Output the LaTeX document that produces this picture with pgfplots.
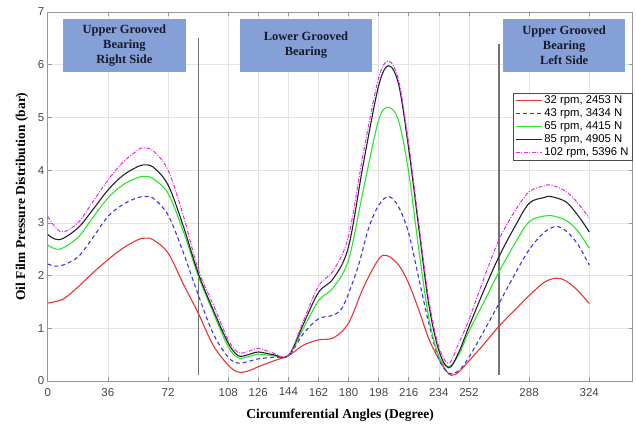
\documentclass[border=0pt]{standalone}
\usepackage{pgfplots}
\pgfplotsset{compat=1.18}
\usepackage{fontspec}
\setmainfont{Liberation Serif}
\setsansfont{Liberation Sans}

\definecolor{cRed}{RGB}{232,52,52}
\definecolor{cBlue}{RGB}{55,55,225}
\definecolor{cGreen}{RGB}{40,230,40}
\definecolor{cBlack}{RGB}{35,35,35}
\definecolor{cMag}{RGB}{235,40,235}
\definecolor{boxfill}{RGB}{132,160,214}
\definecolor{boxtext}{RGB}{25,25,45}
\definecolor{tickgray}{RGB}{70,70,70}
\definecolor{axgray}{RGB}{150,150,150}
\definecolor{gridgray}{RGB}{228,228,228}

\begin{document}
\begin{tikzpicture}[x=1pt,y=1pt]
\useasboundingbox (-47.7,-45) rectangle (588.3,381);
\begin{axis}[
  at={(0,0)}, anchor=south west,
  scale only axis, width=585pt, height=369pt,
  xmin=0, xmax=350, ymin=0, ymax=7,
  xtick={0,36,72,108,126,144,162,180,198,216,234,252,288,324},
  ytick={0,1,...,7},
  grid=major,
  major grid style={draw=gridgray, line width=0.6pt},
  axis line style={draw=axgray, line width=0.7pt},
  tick style={draw=axgray, line width=0.6pt},
  tick align=inside,
  major tick length=4pt,
  xtick pos=both, ytick pos=both,
  ticklabel style={font=\sffamily\fontsize{11.5}{12}\selectfont, text=tickgray},
  xticklabel style={yshift=-3.5pt},
  /pgf/number format/assume math mode=true,
  xlabel={Circumferential Angles (Degree)},
  ylabel={Oil Film Pressure Distribution (bar)},
  xlabel style={font=\bfseries\fontsize{13.5}{14}\selectfont, yshift=-6pt},
  ylabel style={font=\bfseries\fontsize{13.5}{14}\selectfont, yshift=3pt},
  legend style={at={(axis cs:278.4,5.47)}, anchor=north west,
    draw=black!70, line width=0.5pt, fill=white,
    font=\sffamily\fontsize{11.3}{12}\selectfont,
    inner xsep=2pt, inner ysep=1pt, row sep=-0.4pt},
  legend cell align=left,
  legend image code/.code={\draw[#1] (0pt,0pt) -- (26pt,0pt);},
  every axis plot/.append style={line width=1.1pt, smooth, tension=0.55},
]

% section boxes
\fill[boxfill] (axis cs:9.1,5.86) rectangle (axis cs:82.6,6.87);
\fill[boxfill] (axis cs:114.9,5.86) rectangle (axis cs:194.1,6.87);
\fill[boxfill] (axis cs:272.4,5.86) rectangle (axis cs:345.5,6.87);
\node[align=center, font=\bfseries\fontsize{12.5}{15}\selectfont, text=boxtext] at (axis cs:45.9,6.365) {Upper Grooved\\Bearing\\Right Side};
\node[align=center, font=\bfseries\fontsize{12.5}{15}\selectfont, text=boxtext] at (axis cs:154.5,6.365) {Lower Grooved\\Bearing};
\node[align=center, font=\bfseries\fontsize{12.5}{15}\selectfont, text=boxtext] at (axis cs:309,6.365) {Upper Grooved\\Bearing\\Left Side};

% groove boundaries
\draw[draw=black!55, line width=1.1pt] (axis cs:90,0.12) -- (axis cs:90,6.51);
\draw[draw=black!55, line width=1.1pt] (axis cs:270,0.12) -- (axis cs:270,6.40);

\addplot[cRed] coordinates {
(0,1.48) (9,1.55) (18,1.78) (27,2.05) (36,2.30) (45,2.52) (54,2.68) (58,2.71) (63,2.68)
(72,2.43) (81,1.85) (90,1.29) (99,0.68) (108,0.30) (114,0.17) (120,0.19) (126,0.27)
(135,0.38) (144,0.48) (153,0.68) (162,0.78) (171,0.82) (180,1.10) (189,1.78) (198,2.31)
(203,2.38) (210,2.20) (216,1.85) (222,1.35) (228,0.80) (234,0.42) (240,0.13) (243,0.12)
(246,0.17) (252,0.38) (261,0.70) (270,1.04) (279,1.33) (288,1.62) (297,1.87) (304,1.95)
(310,1.90) (317,1.72) (324,1.47)};
\addlegendentry{32 rpm, 2453 N}

\addplot[cBlue, dash pattern=on 4pt off 3pt] coordinates {
(0,2.22) (7,2.18) (18,2.35) (27,2.72) (36,3.12) (45,3.35) (54,3.48) (59,3.50) (63,3.47)
(72,3.15) (81,2.45) (90,1.64) (99,0.90) (108,0.45) (114,0.34) (120,0.37) (126,0.42)
(135,0.45) (144,0.48) (153,0.90) (162,1.18) (171,1.25) (176,1.38) (180,1.66) (186,2.20)
(192,2.90) (198,3.33) (204,3.50) (210,3.30) (216,2.80) (222,1.95) (228,1.10) (234,0.42)
(240,0.15) (246,0.20) (252,0.45) (261,0.95) (270,1.47) (279,2.00) (288,2.49) (297,2.82)
(304,2.93) (310,2.85) (317,2.60) (324,2.20)};
\addlegendentry{43 rpm, 3434 N}

\addplot[cGreen] coordinates {
(0,2.58) (7,2.50) (18,2.72) (27,3.10) (36,3.47) (45,3.72) (54,3.86) (58,3.88) (63,3.84)
(72,3.56) (81,2.85) (90,2.00) (99,1.30) (108,0.65) (114,0.44) (120,0.46) (126,0.51)
(135,0.48) (144,0.48) (153,1.00) (162,1.52) (171,1.78) (180,2.30) (189,3.65) (198,4.95)
(204,5.19) (210,4.93) (216,3.95) (222,2.50) (228,1.20) (234,0.47) (240,0.27) (246,0.50)
(252,0.94) (261,1.50) (270,2.07) (279,2.58) (288,3.02) (297,3.13) (301,3.14) (310,3.05)
(317,2.85) (324,2.52)};
\addlegendentry{65 rpm, 4415 N}

\addplot[cBlack] coordinates {
(0,2.78) (7,2.68) (18,2.90) (27,3.25) (36,3.62) (45,3.90) (54,4.07) (57,4.10) (63,4.06)
(72,3.72) (81,2.95) (90,2.05) (99,1.35) (108,0.72) (114,0.48) (120,0.50) (126,0.55)
(135,0.50) (144,0.48) (153,1.08) (162,1.68) (171,1.95) (180,2.55) (189,4.15) (198,5.60)
(204,5.98) (210,5.62) (216,4.40) (222,2.90) (228,1.45) (234,0.58) (240,0.25) (246,0.55)
(252,1.03) (261,1.72) (270,2.36) (279,2.90) (288,3.37) (297,3.48) (301,3.50) (310,3.40)
(317,3.15) (324,2.83)};
\addlegendentry{85 rpm, 4905 N}

\addplot[cMag, line width=1.0pt, dash pattern=on 4pt off 1.5pt on 1pt off 1.5pt] coordinates {
(0,3.12) (8,2.83) (18,3.00) (27,3.40) (36,3.81) (45,4.15) (54,4.38) (57,4.42) (63,4.37)
(72,4.00) (81,3.15) (90,2.12) (99,1.45) (108,0.78) (114,0.54) (120,0.56) (126,0.62)
(135,0.53) (144,0.48) (153,1.14) (162,1.80) (171,2.10) (180,2.75) (189,4.35) (198,5.75)
(204,6.07) (210,5.70) (216,4.50) (222,3.00) (228,1.55) (234,0.65) (240,0.34) (246,0.72)
(252,1.16) (261,1.95) (270,2.68) (279,3.20) (288,3.59) (297,3.70) (301,3.72) (310,3.60)
(317,3.38) (324,3.09)};
\addlegendentry{102 rpm, 5396 N}

\end{axis}
\end{tikzpicture}
\end{document}
